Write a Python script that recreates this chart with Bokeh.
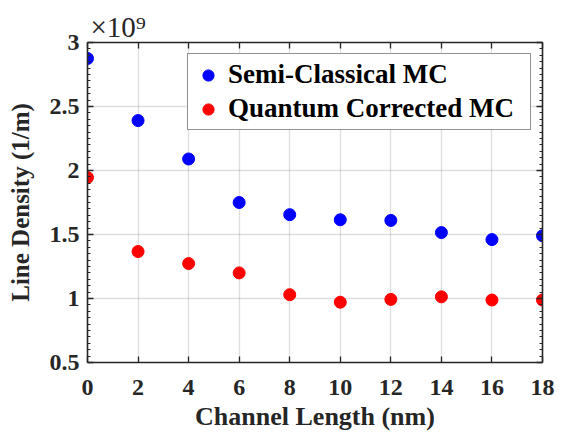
from bokeh.plotting import figure
from bokeh.models import Range1d, LinearAxis, FixedTicker, Legend, LegendItem
from bokeh.embed import file_html
from bokeh.resources import INLINE

channel_length = [0, 2, 4, 6, 8, 10, 12, 14, 16, 18]
semi_classical = [2.875, 2.39, 2.09, 1.75, 1.655, 1.615, 1.61, 1.515, 1.46, 1.49]
quantum_corrected = [1.945, 1.367, 1.273, 1.2, 1.03, 0.971, 0.993, 1.013, 0.988, 0.988]
x_ticks = [0, 2, 4, 6, 8, 10, 12, 14, 16, 18]
y_ticks = [0.5, 1, 1.5, 2, 2.5, 3]
y_minor = [round(0.5 + 0.05 * i, 2) for i in range(51)]
exponent_label = "\u00d710\u2079"

FONT = "Liberation Serif"
AX = "#262626"
W, H = 557, 437

p = figure(width=W, height=H, output_backend="svg", toolbar_location=None,
           x_range=Range1d(0, 18), y_range=Range1d(0.5, 3),
           min_border_left=87, min_border_right=15, min_border_top=42, min_border_bottom=75,
           background_fill_color="white", border_fill_color="white")
p.outline_line_color = None

def style_axis(ax, labels=True):
    ax.axis_line_color = AX
    ax.axis_line_width = 1.6
    ax.major_tick_line_color = AX
    ax.minor_tick_line_color = AX
    ax.major_tick_in = 6
    ax.major_tick_out = 0
    ax.minor_tick_in = 3
    ax.minor_tick_out = 0
    ax.major_tick_line_width = 1.3
    ax.minor_tick_line_width = 1
    ax.major_label_text_font = FONT
    ax.major_label_text_font_style = "bold"
    ax.major_label_text_font_size = "24px"
    ax.major_label_text_color = AX
    if not labels:
        ax.major_label_text_color = None
        ax.major_label_text_font_size = "1px"
        ax.major_label_standoff = 0

xa = p.xaxis[0]
xa.ticker = FixedTicker(ticks=x_ticks)
style_axis(xa)
xa.major_label_standoff = 17
xa.axis_label = "Channel Length (nm)"
xa.axis_label_text_font = FONT
xa.axis_label_text_font_style = "bold"
xa.axis_label_text_font_size = "26px"
xa.axis_label_text_color = AX
xa.axis_label_standoff = 4

ya = p.yaxis[0]
ya.ticker = FixedTicker(ticks=y_ticks, minor_ticks=y_minor)
style_axis(ya)
ya.major_label_standoff = 8
ya.axis_label = "Line Density (1/m)"
ya.axis_label_text_font = FONT
ya.axis_label_text_font_style = "bold"
ya.axis_label_text_font_size = "25px"
ya.axis_label_text_color = AX
ya.axis_label_standoff = 13

top = LinearAxis(ticker=FixedTicker(ticks=x_ticks))
style_axis(top, labels=False)
p.add_layout(top, "above")
right = LinearAxis(ticker=FixedTicker(ticks=y_ticks, minor_ticks=y_minor))
style_axis(right, labels=False)
p.add_layout(right, "right")

# exponent shown as the title, at the top-left above the frame
p.title.text = exponent_label
p.title.align = "left"
p.title.offset = 3
p.title.standoff = 0
p.title.text_font = FONT
p.title.text_font_style = "normal"
p.title.text_font_size = "29px"
p.title.text_color = AX

p.xgrid.ticker = FixedTicker(ticks=x_ticks)
p.ygrid.ticker = FixedTicker(ticks=y_ticks)
for g in (p.xgrid[0], p.ygrid[0]):
    g.grid_line_color = "#262626"
    g.grid_line_alpha = 0.15
    g.grid_line_width = 1.3

r1 = p.scatter(channel_length, semi_classical, size=12, color="#0000ff", marker="circle")
r2 = p.scatter(channel_length, quantum_corrected, size=12, color="#ff0000", marker="circle")

legend = Legend(items=[LegendItem(label="Semi-Classical MC", renderers=[r1]),
                       LegendItem(label="Quantum Corrected MC", renderers=[r2])],
                location="top_right", margin=11)
legend.label_text_font = FONT
legend.label_text_font_style = "bold"
legend.label_text_font_size = "27px"
legend.label_text_color = "black"
legend.border_line_color = AX
legend.border_line_width = 1.6
legend.background_fill_color = "white"
legend.background_fill_alpha = 1
legend.glyph_width = 30
legend.glyph_height = 28
legend.label_standoff = 5
legend.label_width = 297
legend.padding = 5
legend.spacing = 3
legend.label_height = 28
p.add_layout(legend)

open("out.html", "w").write(file_html(p, INLINE))
